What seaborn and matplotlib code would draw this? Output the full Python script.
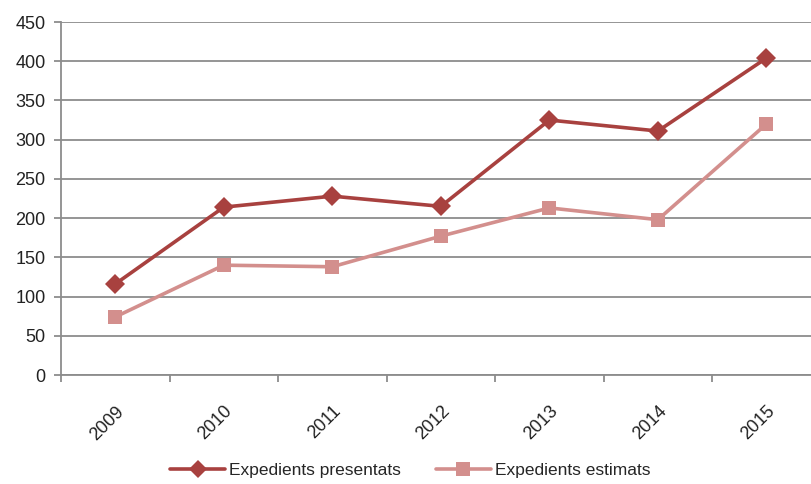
import pandas as pd
import matplotlib.pyplot as plt
from matplotlib.lines import Line2D
import seaborn as sns

years = ['2009', '2010', '2011', '2012', '2013', '2014', '2015']
presentats = [116, 214, 228, 215, 325, 311, 404]
estimats = [74, 140, 138, 177, 213, 198, 320]

df = pd.DataFrame({
    'year': years * 2,
    'value': presentats + estimats,
    'serie': ['Expedients presentats'] * 7 + ['Expedients estimats'] * 7,
})

sns.set_theme(style="white")
plt.rcParams['font.family'] = ['Liberation Sans Narrow', 'Liberation Sans', 'DejaVu Sans']

fig = plt.figure(figsize=(8.12, 4.84), dpi=100)
ax = fig.add_axes([61 / 812, 1 - 375 / 484, 751 / 812, 353 / 484])

palette = {'Expedients presentats': '#A8413F', 'Expedients estimats': '#D38F8D'}
markers = {'Expedients presentats': 'D', 'Expedients estimats': 's'}
sns.lineplot(data=df, x='year', y='value', hue='serie', style='serie',
             markers=markers, dashes=False, palette=palette, linewidth=2.6,
             markersize=10, markeredgewidth=0, ax=ax, sort=False, legend=False)

ax.set_xlim(-0.5, 6.42)
ax.set_ylim(0, 450)
ax.set_yticks(range(0, 451, 50))
ax.yaxis.grid(True, color='#8C8C8C', linewidth=1.3)
ax.set_axisbelow(True)
ax.set_xlabel('')
ax.set_ylabel('')

# category separators as ticks
ax.set_xticks([i - 0.5 for i in range(7)], minor=True)
ax.set_xticks(range(7))
ax.set_xticklabels(years, rotation=45, fontsize=13, ha='right', va='top',
                   rotation_mode='anchor', color='#222222')
ax.tick_params(axis='x', which='major', length=0, pad=20)
ax.tick_params(axis='x', which='minor', length=5, width=1.3, color='#8C8C8C', direction='out', bottom=True)
ax.tick_params(axis='y', length=5, width=1.3, color='#8C8C8C', direction='out', left=True,
               labelsize=13, labelcolor='#222222', pad=6)

for side in ['top', 'right']:
    ax.spines[side].set_visible(False)
for side in ['left', 'bottom']:
    ax.spines[side].set_color('#8C8C8C')
    ax.spines[side].set_linewidth(1.3)

handles = [Line2D([], [], color=palette[s], marker=markers[s], markersize=9 if markers[s] == 'D' else 10,
                  markeredgewidth=0, linewidth=2.6) for s in palette]
fig.legend(handles, list(palette), loc='center', bbox_to_anchor=(410 / 812, 14 / 484),
           ncol=2, frameon=False, fontsize=12.5, handlelength=3.2, columnspacing=2.0,
           handletextpad=0.2)

fig.savefig('out.png', dpi=100)
